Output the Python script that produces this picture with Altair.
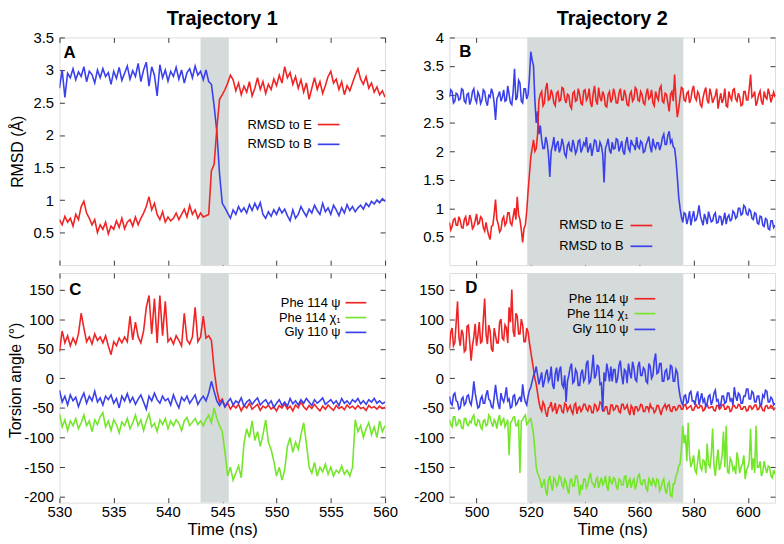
import altair as alt
import pandas as pd
import numpy as np

FONT = "Liberation Sans"
FRAME = "#3a3a3a"
RED = "#f02424"
BLUE = "#3a40ea"
GREEN = "#74e62a"
SHADE = "#d5dada"

# ---------------- data ----------------
# Trajectory 1: samples every 0.25 ns, 530 -> 560 ns
T1_RANGE = (530.0, 560.0)
# Trajectory 2: samples every 0.5 ns, 490 -> 610 ns
T2_RANGE = (490.0, 610.0)

shade_1 = [543.0, 545.6]
shade_2 = [518.7, 576.2]

rmsdB_1 = [
    2.72, 3.00, 2.58, 2.95, 2.88, 3.02, 2.85, 2.97, 2.90, 3.05, 2.82, 2.98,
    2.93, 2.80, 3.00, 2.88, 3.02, 2.90, 2.96, 2.78, 2.98, 2.87, 3.04, 2.84,
    2.95, 3.06, 2.86, 2.99, 2.90, 3.10, 2.82, 3.00, 3.12, 2.75, 3.05, 2.92,
    2.60, 3.08, 2.88, 3.00, 2.83, 2.98, 2.90, 3.04, 2.86, 3.00, 2.80, 2.96,
    3.02, 2.88, 3.06, 2.92, 2.98, 2.85, 3.00, 2.82, 2.78, 2.45, 2.05, 1.40,
    0.95, 0.88, 0.80, 0.72, 0.85, 0.78, 0.90, 0.82, 0.88, 0.80, 0.93, 0.84,
    0.95, 0.86, 0.96, 0.78, 0.72, 0.82, 0.75, 0.85, 0.78, 0.88, 0.80, 0.86,
    0.76, 0.68, 0.85, 0.72, 0.78, 0.90, 0.82, 0.75, 0.86, 0.80, 0.92, 0.84,
    0.78, 0.95, 0.82, 0.88, 0.78, 0.92, 0.85, 0.76, 0.88, 0.80, 0.93, 0.84,
    0.90, 0.82, 0.88, 0.92, 0.86, 0.95, 0.90, 0.98, 0.94, 1.00, 0.96, 1.02,
    0.98,
]
rmsdE_1 = [
    0.70, 0.62, 0.75, 0.66, 0.72, 0.60, 0.78, 0.70, 0.90, 0.98, 0.80, 0.72,
    0.62, 0.70, 0.50, 0.62, 0.55, 0.66, 0.48, 0.60, 0.55, 0.68, 0.58, 0.72,
    0.56, 0.66, 0.70, 0.60, 0.74, 0.62, 0.72, 0.80, 0.90, 1.05, 0.85, 0.95,
    0.78, 0.70, 0.82, 0.66, 0.74, 0.68, 0.72, 0.80, 0.70, 0.78, 0.86, 0.74,
    0.92, 0.78, 0.85, 0.72, 0.80, 0.74, 0.76, 0.78, 1.45, 1.55, 2.10, 2.55,
    2.62, 2.70, 2.80, 2.92, 2.85, 2.68, 2.80, 2.62, 2.75, 2.66, 2.82, 2.60,
    2.72, 2.88, 2.70, 2.82, 2.64, 2.78, 2.70, 2.86, 2.76, 2.92, 2.80, 3.05,
    2.88, 2.96, 2.78, 2.90, 2.72, 2.85, 2.66, 2.80, 2.55, 2.72, 2.88, 2.70,
    2.82, 2.64, 2.76, 2.90, 2.98, 2.80, 2.86, 2.70, 2.82, 2.62, 2.76, 2.68,
    2.80, 2.92, 3.02, 2.86, 2.78, 2.90, 2.72, 2.80, 2.66, 2.74, 2.62, 2.68,
    2.58,
]
psi114_1 = [
    45, 80, 60, 72, 55, 68, 58, 75, 110, 85, 62, 70,
    58, 75, 64, 70, 60, 72, 55, 40, 62, 55, 68, 60,
    70, 62, 105, 65, 95, 70, 60, 80, 120, 140, 75, 135,
    60, 140, 72, 130, 62, 68, 58, 72, 64, 55, 110, 65,
    58, 70, 120, 62, 70, 105, 68, 72, 64, 15, -20, -40,
    -35, -48, -42, -52, -45, -50, -44, -55, -46, -50, -42, -52,
    -48, -44, -54, -47, -50, -45, -52, -48, -55, -46, -50, -43,
    -52, -47, -55, -45, -50, -40, -48, -53, -46, -51, -44, -50,
    -55, -47, -52, -45, -50, -54, -46, -51, -48, -53, -45, -50,
    -47, -52, -46, -51, -49, -54, -46, -50, -48, -52, -47, -51,
    -49,
]
chi114_1 = [
    -60, -82, -70, -88, -72, -80, -68, -85, -75, -62, -80, -72,
    -90, -70, -78, -65, -58, -82, -72, -88, -70, -78, -92, -74,
    -80, -68, -85, -75, -62, -80, -70, -88, -72, -60, -82, -76,
    -90, -70, -78, -68, -85, -72, -80, -70, -76, -88, -72, -66,
    -80, -74, -68, -78, -72, -80, -70, -62, -75, -50, -68, -80,
    -90, -125, -165, -150, -172, -160, -148, -168, -110, -85, -100, -72,
    -105, -90, -115, -95, -70, -108, -120, -140, -165, -150, -172, -155,
    -115, -100, -125, -108, -120, -95, -75, -110, -150, -160, -142, -165,
    -150, -158, -145, -162, -150, -165, -155, -160, -148, -162, -155, -165,
    -150, -70, -90, -80, -100, -85, -75, -95, -82, -100, -72, -90,
    -80,
]
psi110_1 = [
    -20, -40, -30, -45, -28, -38, -32, -48, -35, -25, -42, -30,
    -38, -22, -40, -33, -45, -30, -36, -28, -42, -34, -50, -30,
    -38, -26, -40, -32, -44, -35, -28, -40, -52, -30, -38, -25,
    -36, -42, -30, -38, -34, -45, -28, -40, -50, -32, -38, -30,
    -42, -35, -28, -44, -36, -30, -38, -25, -5, -22, -38, -46,
    -38, -48, -40, -34, -45, -38, -42, -33, -47, -40, -36, -44,
    -38, -33, -45, -40, -36, -44, -38, -49, -42, -36, -46, -40,
    -47, -34, -43, -38, -45, -36, -42, -34, -40, -46, -36, -42,
    -38, -33, -44, -40, -36, -43, -38, -46, -34, -42, -38, -44,
    -36, -40, -34, -43, -38, -44, -36, -40, -34, -42, -38, -43,
    -40,
]

rmsdB_2 = [
    2.95, 3.08, 3.05, 2.85, 2.88, 3.02, 3.00, 2.90, 2.92, 3.10, 3.08, 2.88, 2.85, 3.00, 3.02, 2.82, 2.90, 3.05, 3.10, 2.92,
    2.86, 3.04, 2.98, 2.84, 2.90, 3.08, 3.05, 2.88, 2.80, 2.98, 2.95, 3.10, 3.02, 2.85, 2.55, 2.92, 2.98, 3.05, 2.88, 2.95,
    3.08, 2.88, 2.90, 3.15, 3.00, 2.85, 2.82, 3.05, 3.45, 2.90, 2.95, 3.25, 3.20, 2.88, 2.85, 3.10, 3.10, 2.92, 3.00, 3.30,
    3.75, 3.60, 3.50, 2.90, 2.50, 2.70, 2.30, 2.45, 2.20, 2.05, 2.05, 2.25, 2.15, 1.95, 1.55, 2.00, 2.10, 2.25, 2.00, 2.12,
    2.18, 1.98, 2.05, 2.22, 2.12, 1.95, 1.90, 2.10, 2.15, 2.02, 2.00, 2.20, 2.10, 1.96, 2.02, 2.18, 2.20, 1.98, 2.05, 2.15,
    2.10, 2.25, 1.98, 2.06, 2.14, 1.92, 2.05, 2.20, 2.18, 2.00, 2.00, 2.16, 2.10, 1.95, 1.45, 2.05, 2.12, 2.22, 2.02, 1.96,
    2.16, 2.04, 2.05, 2.22, 2.20, 2.00, 2.08, 2.18, 2.00, 1.94, 2.15, 2.25, 2.05, 2.00, 2.20, 2.12, 2.10, 2.02, 2.25, 2.08,
    2.05, 2.18, 2.15, 1.98, 2.00, 2.12, 2.18, 2.26, 2.08, 1.98, 2.22, 2.10, 2.05, 2.15, 2.15, 2.02, 2.10, 2.24, 2.30, 2.12,
    2.12, 2.28, 2.35, 2.15, 2.20, 2.08, 2.05, 1.85, 1.55, 1.20, 1.00, 0.85, 0.75, 0.92, 0.90, 0.72, 0.82, 0.95, 0.70, 0.84,
    0.95, 0.78, 0.80, 0.90, 1.05, 0.86, 0.78, 0.70, 0.90, 0.82, 0.72, 0.94, 0.85, 0.76, 0.78, 0.88, 0.92, 0.74, 0.75, 0.86,
    0.85, 0.70, 0.80, 0.92, 0.72, 0.84, 0.88, 0.78, 0.80, 0.95, 0.92, 0.82, 0.85, 1.00, 1.00, 0.88, 0.90, 1.05, 1.02, 0.90,
    0.88, 0.98, 0.95, 0.82, 0.80, 0.92, 0.90, 0.74, 0.72, 0.86, 0.85, 0.70, 0.68, 0.82, 0.80, 0.64, 0.62, 0.78, 0.78, 0.66,
    0.70,
]
rmsdE_2 = [
    0.75, 0.62, 0.68, 0.80, 0.82, 0.70, 0.70, 0.85, 0.78, 0.66, 0.65, 0.80, 0.85, 0.70, 0.72, 0.88, 0.80, 0.64, 0.68, 0.78,
    0.90, 0.72, 0.74, 0.85, 0.82, 0.66, 0.60, 0.75, 0.62, 0.52, 0.45, 0.68, 0.70, 0.90, 1.15, 0.80, 0.72, 0.58, 0.62, 0.80,
    0.85, 0.70, 0.75, 0.92, 0.92, 0.74, 0.70, 0.85, 1.00, 0.80, 1.20, 0.88, 0.80, 0.62, 0.40, 0.65, 0.70, 0.95, 1.30, 1.60,
    1.90, 2.05, 2.20, 2.00, 2.05, 2.30, 2.90, 3.00, 3.05, 2.80, 2.85, 3.10, 3.20, 2.90, 2.92, 3.08, 3.00, 2.85, 2.80, 3.02,
    3.05, 2.88, 2.90, 3.12, 3.10, 2.92, 2.85, 3.00, 2.98, 2.80, 2.75, 3.02, 3.05, 2.88, 2.90, 3.10, 3.00, 2.84, 2.82, 3.06,
    3.08, 2.90, 2.95, 3.10, 2.85, 2.78, 3.02, 3.15, 2.90, 2.82, 3.12, 2.95, 2.88, 3.05, 2.98, 2.80, 2.78, 3.00, 3.05, 2.86,
    2.92, 3.10, 3.00, 2.85, 2.85, 3.02, 3.10, 2.90, 2.90, 3.08, 2.98, 2.82, 2.80, 3.00, 3.05, 2.88, 2.92, 3.12, 3.08, 2.90,
    2.88, 3.05, 3.00, 2.85, 2.82, 3.00, 3.10, 2.92, 2.95, 3.08, 2.85, 2.80, 3.05, 2.95, 2.90, 3.10, 3.15, 2.88, 2.85, 3.02,
    3.00, 2.85, 2.70, 3.00, 3.05, 2.88, 3.35, 2.90, 2.60, 2.75, 2.95, 3.12, 3.10, 2.90, 2.88, 3.02, 3.05, 2.85, 2.92, 3.08,
    3.15, 2.95, 2.90, 3.05, 3.00, 2.82, 2.78, 2.95, 3.05, 3.12, 2.90, 2.84, 3.10, 3.00, 2.85, 2.92, 2.98, 3.10, 2.75, 2.90,
    3.02, 2.85, 2.92, 3.10, 2.80, 2.78, 3.05, 2.95, 2.90, 3.08, 3.10, 2.92, 2.88, 3.02, 2.95, 2.80, 2.82, 3.05, 3.05, 2.90,
    2.90, 3.10, 3.35, 2.95, 2.98, 3.05, 2.80, 2.88, 3.00, 3.06, 2.88, 2.82, 3.05, 2.95, 2.92, 3.10, 3.00, 2.86, 2.95, 3.04,
    2.95,
]
psi114_2 = [
    50, 78, 85, 55, 60, 95, 130, 70, 55, 82, 75, 45, 48, 88, 90, 60, 30, 55, 70, 92,
    55, 72, 95, 60, 62, 100, 135, 75, 58, 90, 80, 50, 45, 85, 72, 60, 60, 95, 100, 68,
    65, 90, 85, 60, 120, 95, 150, 80, 70, 110, 105, 75, 75, 100, 90, 62, 62, 85, 78, 60,
    45, 30, 15, 0, -10, -25, -40, -50, -55, -40, -45, -58, -65, -50, -48, -40, -55, -52, -42, -60,
    -52, -45, -46, -56, -58, -42, -44, -55, -50, -46, -55, -60, -45, -42, -60, -50, -48, -56, -52, -44,
    -44, -52, -55, -46, -48, -58, -58, -44, -46, -55, -52, -40, -42, -55, -55, -48, -48, -60, -60, -45,
    -45, -54, -52, -46, -47, -56, -58, -44, -44, -52, -50, -45, -55, -62, -46, -50, -62, -48, -48, -55,
    -52, -44, -45, -56, -56, -48, -48, -55, -44, -50, -50, -58, -55, -46, -46, -54, -62, -52, -48, -44,
    -52, -46, -45, -55, -56, -48, -48, -54, -52, -46, -46, -52, -52, -45, -44, -52, -50, -48, -46, -54,
    -54, -48, -45, -50, -50, -46, -47, -55, -53, -46, -44, -50, -50, -48, -48, -54, -55, -46, -46, -52,
    -50, -45, -44, -52, -52, -47, -48, -56, -54, -46, -46, -50, -50, -44, -45, -52, -52, -48, -48, -55,
    -54, -47, -47, -52, -50, -45, -45, -53, -52, -46, -48, -54, -55, -47, -46, -51, -50, -46, -48, -53,
    -52,
]
chi114_2 = [
    -70, -78, -82, -65, -65, -80, -78, -70, -72, -84, -85, -68, -68, -78, -80, -72, -75, -66, -62, -78,
    -80, -70, -72, -82, -86, -72, -70, -80, -78, -62, -66, -75, -82, -70, -74, -85, -70, -62, -80, -72,
    -68, -82, -76, -70, -130, -75, -72, -66, -65, -80, -80, -70, -160, -72, -70, -65, -62, -78, -75, -70,
    -68, -80, -95, -120, -150, -160, -165, -172, -185, -178, -170, -190, -198, -172, -165, -180, -190, -168, -172, -182,
    -178, -165, -168, -180, -185, -170, -175, -188, -195, -172, -170, -182, -182, -165, -165, -178, -198, -180, -188, -170,
    -170, -185, -180, -168, -160, -176, -178, -185, -172, -168, -185, -176, -168, -180, -176, -165, -182, -190, -165, -175,
    -178, -168, -170, -182, -188, -170, -172, -180, -180, -166, -165, -185, -176, -170, -185, -175, -170, -188, -178, -165,
    -162, -178, -180, -172, -172, -186, -190, -170, -175, -182, -168, -176, -182, -170, -172, -190, -185, -175, -170, -188,
    -195, -180, -175, -198, -200, -178, -178, -165, -160, -148, -145, -120, -80, -110, -95, -140, -75, -130, -150, -142,
    -130, -155, -160, -140, -120, -150, -155, -138, -140, -160, -110, -145, -150, -130, -85, -148, -165, -140, -120, -155,
    -145, -130, -90, -150, -80, -158, -160, -135, -140, -155, -150, -162, -125, -140, -160, -150, -145, -130, -170, -155,
    -150, -140, -85, -155, -135, -160, -80, -150, -150, -140, -165, -158, -140, -152, -160, -148, -150, -165, -168, -155,
    -162,
]
psi110_2 = [
    -30, -42, -45, -28, -25, -38, -40, -52, -50, -35, -32, -45, -42, -30, -28, -40, -45, -30, -5, -25,
    -38, -50, -48, -35, -30, -42, -42, -28, -20, -35, -38, -48, -50, -32, -11, -30, -44, -52, -25, -35,
    -40, -30, -15, -38, -35, -50, -48, -30, -28, -45, -42, -35, -32, -40, -10, -30, -40, -45, -30, -20,
    -15, -5, 5, 10, 20, 5, -10, 0, 10, -15, -5, 8, 15, -5, 0, 20, -10, -18, 8, 18,
    -5, 12, 20, -10, -15, 5, -40, -5, 5, 18, 25, -8, -5, 15, 10, -12, -12, 8, 15, -5,
    0, 25, 30, -8, -5, 15, 40, 0, 5, 22, 20, -10, -8, -55, 10, -5, 25, 12, -5, 20,
    -5, 15, 15, -8, 0, 22, 30, 5, -10, 15, 12, -8, 25, 10, 0, 28, 18, -2, -5, 20,
    28, 5, 5, 18, 15, -5, -8, 25, 20, 0, 5, 30, 42, 8, 10, 25, 25, -5, -5, 12,
    15, -2, 0, 22, 20, -5, -5, 15, 10, -15, -30, -40, -45, -30, -28, -42, -40, -25, -22, -38,
    -38, -45, -30, -22, -45, -35, -25, -40, -35, -48, -42, -30, -28, -45, -38, -25, -20, -38, -36, -48,
    -45, -30, -30, -42, -40, -25, -25, -38, -35, -45, -15, -30, -38, -25, -28, -42, -42, -30, -30, -18,
    -18, -35, -35, -22, -25, -40, -40, -30, -30, -45, -45, -28, -32, -20, -22, -40, -40, -32, -35, -45,
    -42,
]

# ---------------- styling / layout constants ----------------
W = 329
H_TOP = 230
H_BOT = 232


def tdf(values, trange):
    return pd.DataFrame({"t": np.linspace(trange[0], trange[1], len(values)), "v": values})


def make_axis(orient, values, labels, title=None, is_x=True, title_pad=7, title_y=None):
    kw = dict(
        orient=orient, values=values, labels=labels, ticks=True, domain=False,
        grid=False, tickSize=5, tickWidth=1, tickColor=FRAME, offset=-5,
    )
    if labels:
        kw.update(
            labelFont=FONT, labelFontSize=15, labelColor="black",
            labelPadding=2 if is_x else 6, labelFlush=False, labelOverlap=False,
            labelBound=False, labelExpr="datum.value + ''",
        )
    if title:
        kw.update(
            title=title, titleFont=FONT, titleFontSize=17 if is_x else 16,
            titleFontWeight="normal", titleColor="black",
            titlePadding=title_pad,
        )
        if title_y is not None:
            kw["titleY"] = title_y
    else:
        kw["title"] = None
    return alt.Axis(**kw)


one = pd.DataFrame({"k": [0]})


def panel(series, shade, xdom, ydom, xticks, yticks, height, xlabels, ytitle,
          ytitle_pad, ytitle_y, title, letter, letter_xy, legend_rows,
          legend_text_x, legend_line_x):
    xs = alt.Scale(domain=xdom, nice=False, zero=False)
    ys = alt.Scale(domain=ydom, nice=False, zero=False)
    layers = []
    shade_df = pd.DataFrame({"start": [shade[0]], "end": [shade[1]]})
    layers.append(
        alt.Chart(shade_df).mark_rect(color=SHADE).encode(
            x=alt.X("start:Q", scale=xs,
                    axis=make_axis("bottom", xticks, xlabels,
                                   "Time (ns)" if xlabels else None, True, 2)),
            x2="end:Q",
        )
    )
    for i, (df, color) in enumerate(series):
        if i == 0:
            xa = make_axis("top", xticks, False)
            ya = make_axis("left", yticks, True, ytitle, False, ytitle_pad, ytitle_y)
        elif i == 1:
            xa = None
            ya = make_axis("right", yticks, False)
        else:
            xa = None
            ya = None
        layers.append(
            alt.Chart(df).mark_line(color=color, strokeWidth=1.6, clip=True).encode(
                x=alt.X("t:Q", scale=xs, axis=xa),
                y=alt.Y("v:Q", scale=ys, axis=ya),
            )
        )
    for label, color, ypos in legend_rows:
        layers.append(
            alt.Chart(one).mark_text(
                align="right", baseline="middle", font=FONT, fontSize=13, color="black"
            ).encode(x=alt.value(legend_text_x), y=alt.value(ypos), text=alt.value(label))
        )
        layers.append(
            alt.Chart(one).mark_rule(color=color, strokeWidth=1.7).encode(
                x=alt.value(legend_line_x[0]), x2=alt.value(legend_line_x[1]),
                y=alt.value(ypos),
            )
        )
    layers.append(
        alt.Chart(one).mark_text(
            align="left", baseline="alphabetic", font=FONT, fontSize=17,
            fontWeight="bold", color="black"
        ).encode(x=alt.value(letter_xy[0]), y=alt.value(letter_xy[1]), text=alt.value(letter))
    )
    ch = alt.layer(*layers).resolve_axis(x="independent", y="independent").properties(
        width=W, height=height
    )
    if title:
        ch = ch.properties(
            title=alt.TitleParams(
                text=title, font=FONT, fontSize=20, fontWeight="bold", anchor="middle",
                offset=-14, baseline="alphabetic", color="black",
            )
        )
    return ch


xt1 = [530, 535, 540, 545, 550, 555, 560]
xt2 = [500, 520, 540, 560, 580, 600]
yt_a = [0.5, 1, 1.5, 2, 2.5, 3, 3.5]
yt_b = [0.5, 1, 1.5, 2, 2.5, 3, 3.5, 4]
yt_t = [-200, -150, -100, -50, 0, 50, 100, 150]

pA = panel(
    [(tdf(rmsdB_1, T1_RANGE), BLUE), (tdf(rmsdE_1, T1_RANGE), RED)],
    shade_1, [530, 560], [0, 3.5], xt1, yt_a, H_TOP, False, "RMSD (Å)", 7, None,
    "Trajectory 1", "A", (4, 21),
    [("RMSD to E", RED, 88), ("RMSD to B", BLUE, 108)], 255, (261, 283),
)
pB = panel(
    [(tdf(rmsdB_2, T2_RANGE), BLUE), (tdf(rmsdE_2, T2_RANGE), RED)],
    shade_2, [490, 610], [0, 4], xt2, yt_b, H_TOP, False, None, 7, None,
    "Trajectory 2", "B", (10, 20),
    [("RMSD to E", RED, 190), ("RMSD to B", BLUE, 211)], 176, (183, 205),
)
pC = panel(
    [(tdf(chi114_1, T1_RANGE), GREEN), (tdf(psi114_1, T1_RANGE), RED),
     (tdf(psi110_1, T1_RANGE), BLUE)],
    shade_1, [530, 560], [-210, 178], xt1, yt_t, H_BOT, True, "Torsion angle (°)", 0, 108,
    None, "C", (10, 22),
    [("Phe 114 ψ", RED, 30), ("Phe 114 χ₁", GREEN, 45), ("Gly 110  ψ", BLUE, 60)],
    284, (289, 310),
)
pD = panel(
    [(tdf(chi114_2, T2_RANGE), GREEN), (tdf(psi114_2, T2_RANGE), RED),
     (tdf(psi110_2, T2_RANGE), BLUE)],
    shade_2, [490, 610], [-210, 178], xt2, yt_t, H_BOT, True, None, 7, None,
    None, "D", (16, 20),
    [("Phe 114 ψ", RED, 26), ("Phe 114 χ₁", GREEN, 41), ("Gly 110  ψ", BLUE, 57)],
    181, (187, 208),
)

chart = alt.ConcatChart(
    concat=[pA, pB, pC, pD], columns=2,
    spacing={"row": 8, "column": 65}, bounds="flush",
    padding={"left": -1, "top": -3, "right": 0, "bottom": 0},
).configure_view(stroke=FRAME, strokeWidth=1.2).configure(font=FONT, background="white")

chart.save("out.html", embed_options={"renderer": "svg", "actions": False})
